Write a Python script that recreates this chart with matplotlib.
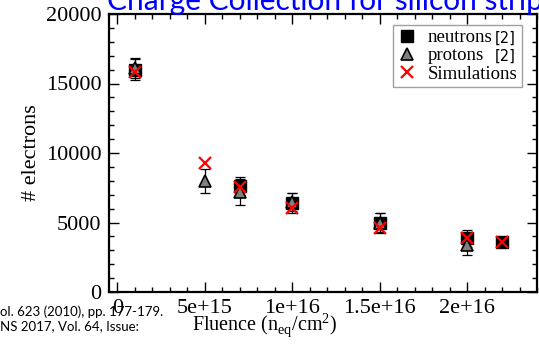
import matplotlib
matplotlib.use('Agg')
import matplotlib.pyplot as plt
from matplotlib.ticker import MultipleLocator

# data
neutron_x = [1e15, 7e15, 1e16, 1.5e16, 2e16, 2.2e16]
neutron_y = [16000, 7620, 6400, 4950, 3870, 3570]
neutron_err = [780, 630, 720, 720, 600, 350]

proton_x = [1e15, 5e15, 7e15, 1e16, 1.5e16, 2e16]
proton_y = [16100, 8000, 7200, 6500, 5000, 3380]
proton_err = [700, 850, 950, 650, 650, 720]

sim_x = [1e15, 5e15, 7e15, 1e16, 1.5e16, 2e16, 2.2e16]
sim_y = [15850, 9250, 7580, 6050, 4580, 3860, 3570]

xticks = [0, 5e15, 1e16, 1.5e16, 2e16]
xtick_labels = ['0', '5e+15', '1e+16', '1.5e+16', '2e+16']
yticks = [0, 5000, 10000, 15000, 20000]

serif = 'Liberation Serif'

fig = plt.figure(figsize=(5.39, 3.63), dpi=100)
W, H = 539, 363
ax = fig.add_axes([108.5 / W, 1 - 292 / H, 428.5 / W, 278 / H])

eb = dict(fmt='none', ecolor='black', elinewidth=0.9, capsize=3.5, capthick=0.9, zorder=2)
ax.errorbar(neutron_x, neutron_y, yerr=neutron_err, **eb)
ax.errorbar(proton_x, proton_y, yerr=proton_err, **eb)

ax.plot(neutron_x, neutron_y, 's', color='black', markersize=8, zorder=3,
        label='neutrons')
ax.plot(proton_x, proton_y, '^', markerfacecolor='#7f7f7f', markeredgecolor='black',
        markeredgewidth=1.2, markersize=9, zorder=4, label='protons')
ax.plot(sim_x, sim_y, 'x', color='red', markersize=9, markeredgewidth=1.6, zorder=5,
        label='Simulations')

ax.set_xlim(-5e14, 2.4e16)
ax.set_ylim(0, 20000)
ax.set_xticks(xticks)
ax.set_xticklabels(xtick_labels)
ax.set_yticks(yticks)
ax.xaxis.set_minor_locator(MultipleLocator(1e15))
ax.yaxis.set_minor_locator(MultipleLocator(1000))
ax.tick_params(which='both', direction='in', top=True, right=True, width=1)
ax.tick_params(which='major', length=7, labelsize=16, pad=5)
ax.tick_params(which='minor', length=3.5)
for lab in ax.get_xticklabels() + ax.get_yticklabels():
    lab.set_family(serif)
for s in ax.spines.values():
    s.set_linewidth(1.6)

ax.set_ylabel('# electrons', fontsize=16, family=serif)
ax.yaxis.set_label_coords(-0.157, 0.5)
ax.set_xlabel(r'Fluence (n$_{\mathregular{eq}}$/cm$^{\mathregular{2}}$)', fontsize=14.5, family=serif)
ax.xaxis.set_label_coords(0.365, -0.068)

leg = ax.legend(loc='upper right', bbox_to_anchor=(0.965, 0.962), borderaxespad=0,
                prop={'family': serif, 'size': 13.5}, frameon=True, fancybox=False,
                handlelength=1.0, handletextpad=0.6, labelspacing=0.05,
                borderpad=0.25)
leg.get_frame().set_edgecolor('#888888')
leg.get_frame().set_linewidth(1.0)
leg.set_zorder(10)

# reference marks drawn in a sans face next to the first two legend entries
fig.canvas.draw()
inv = fig.transFigure.inverted()
for t in leg.get_texts()[:2]:
    bb = t.get_window_extent()
    _, yc = inv.transform((0, (bb.y0 + bb.y1) / 2))
    fig.text(495 / W, yc, '[2]', fontsize=10.5, family='DejaVu Sans',
             va='center', ha='left', zorder=11)

fig.text(107 / W, 1 - 10 / H, 'Charge Collection for silicon strips', color='#0000ff',
         fontsize=21.5, family='Lato', va='baseline', ha='left')
fig.text(0, 1 - 312 / H, 'ol. 623 (2010), pp. 177-179.', fontsize=9.5, family='Lato',
         va='center', ha='left')
fig.text(0, 1 - 326 / H, 'NS 2017, Vol. 64, Issue:', fontsize=9.5, family='Lato',
         va='center', ha='left')

fig.savefig('out.png', dpi=100)
